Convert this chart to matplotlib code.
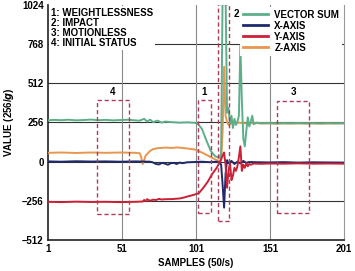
import matplotlib
matplotlib.use("Agg")
from matplotlib import pyplot as plt
from matplotlib.patches import Rectangle

plt.rcParams['font.family'] = ['Liberation Sans', 'DejaVu Sans']
plt.rcParams['font.weight'] = 'bold'

# dati
sum_x = [1, 5, 10, 15, 20, 25, 30, 35, 40, 45, 50, 55, 60, 63, 66, 68, 70, 72, 75, 78, 80,
         85, 90, 95, 100, 102, 105, 108, 111, 114, 117, 118, 119, 121, 122, 123, 124, 125,
         126, 127, 128, 129, 130, 131, 132, 133, 134, 135, 136, 137, 138, 139, 140, 142,
         145, 150, 155, 160, 165, 170, 175, 180, 185, 190, 195, 201]
sum_y = [270, 273, 271, 274, 270, 272, 275, 271, 273, 270, 272, 274, 270, 268, 280, 262,
         275, 258, 268, 255, 262, 258, 255, 257, 254, 250, 215, 140, 70, 35, 25, 60, 1100,
         1100, 320, 350, 250, 300, 220, 280, 240, 260, 300, 760, 400, 150, 100, 200, 290,
         230, 260, 300, 245, 255, 250, 252, 249, 251, 250, 252, 250, 251, 249, 251, 250, 251]

x_x = [1, 10, 20, 30, 40, 50, 60, 65, 70, 72, 74, 76, 78, 80, 82, 84, 86, 88, 90, 92, 95,
       100, 105, 110, 115, 117, 118, 119, 120, 121, 122, 123, 125, 127, 129, 131, 133, 135,
       137, 140, 150, 160, 170, 180, 190, 201]
x_y = [2, 0, 3, 1, 2, 0, 2, 1, 0, -5, -15, -18, -8, -12, -20, -10, -8, -15, -6, -10, -4,
       -2, 0, -3, 0, -5, -20, -150, -300, -80, 10, -10, 5, -15, 0, -10, 5, -8, -2, -3, -5,
       -3, -6, -4, -5, -6]

y_x = [1, 10, 20, 30, 40, 50, 60, 65, 66, 67, 68, 70, 72, 74, 76, 78, 80, 85, 90, 92, 95,
       100, 103, 106, 109, 112, 115, 117, 118, 119, 120, 121, 122, 123, 124, 125, 126, 127,
       128, 129, 130, 131, 132, 133, 134, 135, 136, 137, 138, 140, 145, 150, 160, 170, 180,
       190, 201]
y_y = [-262, -264, -261, -263, -262, -264, -262, -260, -250, -258, -245, -255, -248, -250,
       -243, -247, -245, -244, -240, -236, -228, -215, -205, -170, -130, -80, -40, -5, 15,
       40, 60, -20, -170, -60, -10, -120, -90, -40, -60, -30, 30, 100, -60, -20, -40, -10,
       -30, -15, -20, -12, -14, -12, -13, -11, -13, -12, -13]

z_x = [1, 10, 20, 30, 40, 50, 60, 63, 64, 65, 66, 67, 68, 70, 72, 75, 80, 85, 88, 92, 96,
       100, 105, 110, 115, 118, 119, 120, 121, 122, 123, 125, 130, 135, 140, 150, 201]
z_y = [58, 60, 57, 60, 58, 60, 58, 55, 30, -15, 10, 40, 50, 70, 82, 88, 92, 90, 93, 90, 85,
       80, 60, 35, 10, 5, 200, 620, 300, 260, 240, 250, 255, 250, 252, 250, 250]

# riquadri tratteggiati: (etichetta, x0, x1, y0, y1)
box_lab = ["1", "2", "3", "4"]
box_x0 = [102.5, 116, 156, 34]
box_x1 = [111, 123.3, 177.5, 55.5]
box_y0 = [-335, -390, -335, -340]
box_y1 = [400, 1030, 395, 400]

xticks = [1, 51, 101, 151, 201]
yticks = [-512, -256, 0, 256, 512, 768, 1024]
ytick_lab = ["\u2013512", "\u2013256", "0", "256", "512", "768", "1024"]

fig = plt.figure(figsize=(3.55, 2.71), dpi=100)
ax = fig.add_axes([0.135, 0.114, 0.834, 0.868])

for v in [-256, 0, 256, 512, 768]:
    ax.axhline(v, color="#333333", lw=0.8, zorder=1)
for v in [51, 101, 151]:
    ax.axvline(v, color="#8a8a8a", lw=0.8, zorder=1)

ax.plot(z_x, z_y, color="#e8964e", lw=1.4, label="Z-AXIS", zorder=3)
ax.plot(sum_x, sum_y, color="#5daf8a", lw=1.4, label="VECTOR SUM", zorder=4)
ax.plot(x_x, x_y, color="#1e2a6c", lw=1.4, label="X-AXIS", zorder=5)
ax.plot(y_x, y_y, color="#cc2036", lw=1.4, label="Y-AXIS", zorder=6)

for lab, x0, x1, y0, y1 in zip(box_lab, box_x0, box_x1, box_y0, box_y1):
    ax.add_patch(Rectangle((x0, y0), x1 - x0, y1 - y0, fill=False, ec="#b03a5a",
                           lw=1.0, ls=(0, (3, 2)), zorder=7))
    if lab == "2":
        ax.text(x1 + 3, 1000, lab, fontsize=7, fontweight="bold", va="top", zorder=8)
    else:
        ax.text((x0 + x1) / 2, y1 + 25, lab, fontsize=7, fontweight="bold",
                ha="center", va="bottom", zorder=8)

ax.text(3, 1005, "1: WEIGHTLESSNESS\n2: IMPACT\n3: MOTIONLESS\n4: INITIAL STATUS",
        fontsize=7, fontweight="bold", va="top", linespacing=1.0, zorder=9,
        bbox=dict(facecolor="white", edgecolor="none", pad=1.5))

h, l = ax.get_legend_handles_labels()
order = [1, 2, 3, 0]
leg = ax.legend([h[i] for i in order], [l[i] for i in order], loc="upper right",
                fontsize=7, frameon=True, fancybox=False, edgecolor="none",
                framealpha=1, handlelength=2.6, labelspacing=0.1, borderaxespad=0.2,
                borderpad=0.3, handletextpad=0.6)
leg.set_zorder(9)
for t in leg.get_texts():
    t.set_fontweight("bold")
for ln in leg.get_lines():
    ln.set_linewidth(2)

ax.set_xlim(1, 201)
ax.set_ylim(-512, 1024)
ax.set_xticks(xticks)
ax.set_yticks(yticks)
ax.set_yticklabels(ytick_lab)
ax.tick_params(labelsize=7, length=0, pad=3)
for s in ["left", "bottom"]:
    ax.spines[s].set_color("#222222")
    ax.spines[s].set_linewidth(1.2)
ax.spines["top"].set_visible(False)
ax.spines["right"].set_color("#999999")
ax.spines["right"].set_linewidth(0.8)

ax.set_xlabel("SAMPLES (50/s)", fontsize=7, fontweight="bold", labelpad=3)
ax.set_ylabel("VALUE (256/$\\mathbfit{g}$)", fontsize=7, fontweight="bold", labelpad=4)

plt.savefig("out.png", dpi=100)
